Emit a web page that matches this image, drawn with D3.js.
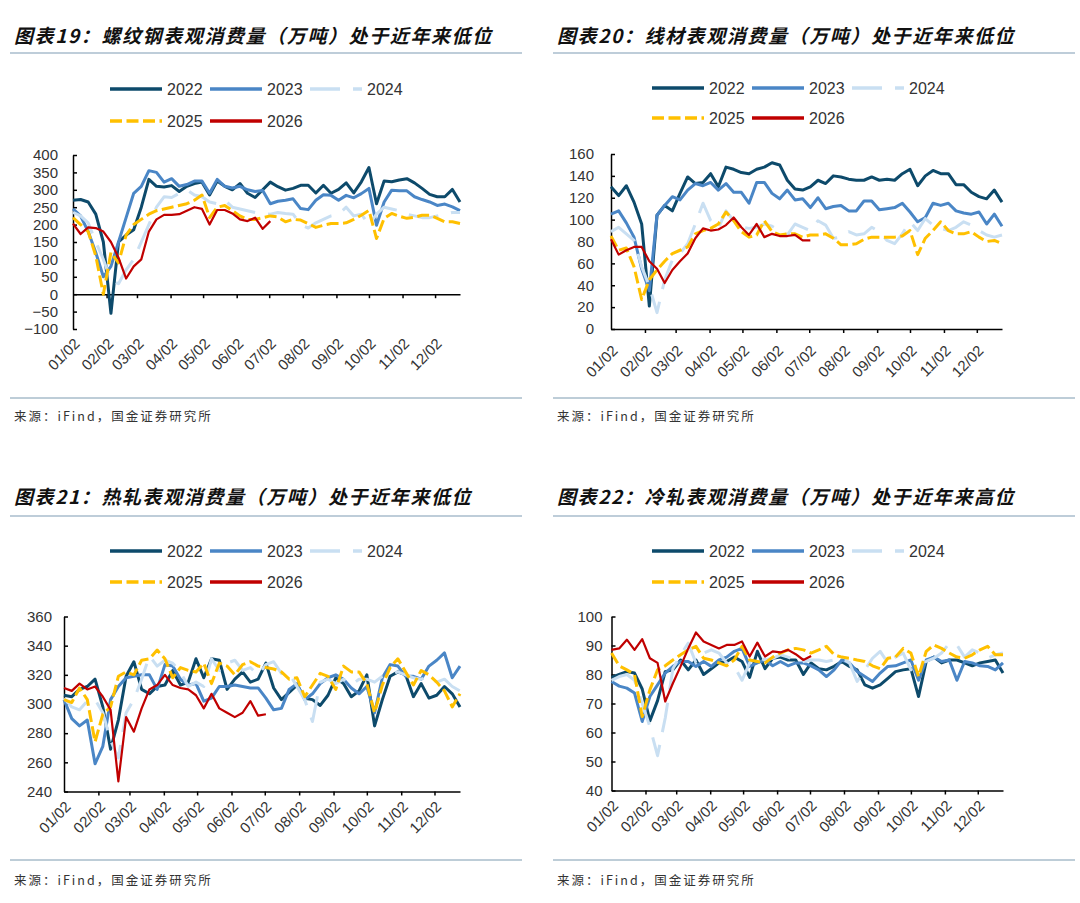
<!DOCTYPE html>
<html>
<head>
<meta charset="utf-8">
<script src="https://cdn.jsdelivr.net/npm/d3@7"></script>
<style>
  body { margin: 0; background: #fff; }
  svg text { font-family: "Liberation Sans", Arial, sans-serif; fill: #333; }
  svg text.title { font-family: "Noto Sans CJK SC", sans-serif; font-weight: bold; font-style: italic; font-size: 19px; letter-spacing: 1.6px; fill: #111; }
  svg text.source { font-family: "Noto Sans CJK SC", sans-serif; font-size: 12.5px; letter-spacing: 2px; fill: #333; }
</style>
</head>
<body>
<svg width="1080" height="903"></svg>
<script>
// weekly points, plotted on a dummy year so the month ticks read mm/dd
var start = new Date(2021, 0, 2);
var weeks = d3.range(52).map(function(i) { return d3.timeDay.offset(start, 7 * i); });
var monthTicks = d3.range(1, 12).map(function(m) { return new Date(2021, m, 2); });
var monthLabels = d3.range(0, 12).map(function(m) { return new Date(2021, m, 2); });
var years = ['2022', '2023', '2024', '2025', '2026'];

// 螺纹钢
var rebar2022 = [270,272,265,230,150,-55,150,170,185,250,330,310,308,312,295,310,318,322,285,325,310,300,318,290,278,300,322,309,299,304,313,313,291,313,290,301,320,291,323,364,260,325,323,328,332,320,304,287,280,280,301,265];
var rebar2023 = [245,225,180,120,50,80,150,220,290,310,355,350,322,332,310,315,325,325,290,330,310,305,310,300,295,298,260,267,270,274,246,243,270,286,284,270,284,277,289,304,198,265,299,297,297,280,272,265,255,259,251,240];
var rebar2024 = [235,225,205,150,100,40,30,70,100,150,200,250,280,278,290,300,285,280,265,260,270,250,245,240,235,232,230,235,232,230,200,190,205,215,225,230,250,225,230,200,230,250,245,240,230,225,220,220,225,230,235,235];
var rebar2025 = [220,200,180,110,0,120,90,170,200,215,230,240,245,250,255,260,270,285,220,250,255,240,225,215,215,220,225,222,208,215,213,203,192,198,203,203,205,215,227,241,160,218,232,224,218,221,227,227,218,208,208,203];
var rebar2026 = [203,173,192,190,180,150,105,45,80,100,180,215,228,228,230,240,250,245,200,242,242,232,215,210,220,188,210];

// 线材
var wire2022 = [130,122,131,116,96,21,104,113,108,124,139,133,134,142,130,148,146,143,142,146,148,152,150,136,128,127,130,136,133,140,139,137,136,136,139,136,137,136,142,146,131,140,145,142,142,132,132,125,121,119,127,116];
var wire2023 = [105,108,97,84,55,35,104,113,121,118,127,133,131,134,127,133,125,125,115,134,134,124,119,127,118,119,111,120,110,112,113,108,108,117,117,109,110,111,115,107,98,102,115,113,115,108,106,105,107,96,105,94];
var wire2024 = [89,93,87,81,57,39,15,45,63,69,78,96,115,99,92,108,99,93,92,93,96,94,90,86,96,93,90,99,95,83,84,89,86,87,93,89,81,78,87,98,90,101,95,92,90,93,98,95,90,86,84,86];
var wire2025 = [85,72,74,57,27,45,54,62,69,72,75,87,90,92,96,107,99,89,84,86,99,89,86,87,87,84,86,86,87,83,77,77,78,82,84,84,84,84,85,90,68,83,90,98,90,87,87,89,84,80,81,78];
var wire2026 = [82,68,72,75,75,62,55,42,54,62,69,83,92,90,91,95,102,93,86,96,84,87,85,85,86,81,81];

// 热轧
var hot2022 = [306,305,310,312,317,298,269,289,319,329,310,307,312,313,323,313,315,331,318,331,330,310,317,322,315,317,328,311,303,308,313,304,303,299,306,318,314,305,309,320,285,303,319,322,320,305,314,304,306,312,307,298];
var hot2023 = [303,290,285,289,259,271,303,312,318,319,320,320,310,327,326,317,313,314,302,304,312,312,313,312,311,311,304,296,297,310,314,303,307,314,318,320,317,311,307,312,294,318,327,326,319,319,317,326,330,335,318,326];
var hot2024 = [304,298,296,302,303,294,275,263,294,303,317,333,326,330,328,322,312,315,312,331,323,328,330,323,325,320,327,329,321,321,312,303,288,315,317,314,317,313,317,317,315,319,320,322,320,318,317,319,315,317,312,309];
var hot2025 = [303,301,311,303,274,293,298,319,322,320,330,331,337,331,318,325,323,322,328,314,328,326,320,327,329,326,325,324,322,317,318,305,313,321,319,310,326,322,322,314,294,313,325,331,322,313,323,320,315,309,298,307];
var hot2026 = [311,309,314,310,312,305,296,247,291,281,297,310,313,320,313,311,310,306,297,307,297,294,291,294,302,292,293];

// 冷轧
var cold2022 = [79,80,81,80.5,75,64,71,81,81.6,85,81.6,85,80,82,84,84.5,86,84.5,79,88,82,85.6,86,85,85,80,84,82,81.6,82.8,84.5,82.8,81.6,76.4,75.3,76.4,78.7,81,81.6,82,72.4,84.5,86,84,85,85,84,83,84,84.5,85,80.5];
var cold2023 = [77.6,76,75.3,73.6,63.8,72.4,76.4,80.5,82.8,84.5,84.5,82.8,84.5,82.8,85,86,88,89,82.8,84,85,83,84.5,83,84,84,83,81.6,79.3,81.6,85,84,81,79.3,77.6,80.5,82.8,83,84,85,78,85,86,84.5,85,78,84.5,84,83,82.8,81.6,84];
var cold2024 = [78,79.3,80,78,70,62,52,65,82,86.8,90.8,84,87.4,88.5,87.4,84,82.8,78,84,86,85,85.6,86.8,86,85,84.5,85,85,84.5,85,85.6,84,77.6,81.6,85.6,88,84,86,87.4,81.6,84,84.5,85.6,87.4,90.8,90.2,86,88.5,87.4,85.6,86.8,87.4];
var cold2025 = [87.4,83,81.6,80,65.5,74.7,81.6,83,85,86.8,88.5,89.7,85.6,85,84,83,85,89.7,85,84.5,84,86,87.4,88.5,89,88.5,87.4,88.5,89.7,86.8,86,85.6,85,84.5,83,82,85.6,86,89,87.4,79.3,88,90.2,89,87.4,86,85.6,86.8,88.5,89.7,86.8,86.8];
var cold2026 = [88.5,89,92,88.5,92.2,85.6,84,70.7,77,82.8,89,94.5,91.4,90.2,89,90.2,90.2,91.4,86.2,91,86.2,88,87.6,88.5,87,85,86.4];

var style = {
  '2022': {color: '#0D4A6B', width: 3,   dash: null},
  '2023': {color: '#4A86C6', width: 3,   dash: null},
  '2024': {color: '#C9DFF2', width: 3,   dash: '30,13'},
  '2025': {color: '#FFC000', width: 3,   dash: '12,4.5'},
  '2026': {color: '#C00000', width: 2.2, dash: null}
};

var panels = [
  {title: '图表19：螺纹钢表观消费量（万吨）处于近年来低位', tx: 14, ty: 43, rule: [10, 522],
   series: [rebar2022, rebar2023, rebar2024, rebar2025, rebar2026],
   left: 73, right: 460, top: 155, bottom: 329, yDomain: [-100, 400], yStep: 50, xAt: 0,
   pad: 15, labelY: 341, legX: 110, legY: [89, 121], ruleY: 53, srcRule: 398, srcY: 421},
  {title: '图表20：线材表观消费量（万吨）处于近年来低位', tx: 557, ty: 43, rule: [553, 1075],
   series: [wire2022, wire2023, wire2024, wire2025, wire2026],
   left: 611, right: 1002, top: 154, bottom: 329, yDomain: [0, 160], yStep: 20, xAt: null,
   pad: 17, labelY: 348, legX: 652, legY: [88, 118], ruleY: 53, srcRule: 398, srcY: 421},
  {title: '图表21：热轧表观消费量（万吨）处于近年来低位', tx: 14, ty: 504, rule: [10, 522],
   series: [hot2022, hot2023, hot2024, hot2025, hot2026],
   left: 64, right: 460, top: 616.5, bottom: 791.5, yDomain: [240, 360], yStep: 20, xAt: null,
   pad: 12, labelY: 804, legX: 110, legY: [551, 582], ruleY: 516, srcRule: 860, srcY: 885},
  {title: '图表22：冷轧表观消费量（万吨）处于近年来高位', tx: 557, ty: 504, rule: [553, 1075],
   series: [cold2022, cold2023, cold2024, cold2025, cold2026],
   left: 611.5, right: 1003, top: 616.5, bottom: 790.5, yDomain: [40, 100], yStep: 10, xAt: null,
   pad: 9, labelY: 803, legX: 652, legY: [551, 582], ruleY: 516, srcRule: 860, srcY: 885}
];

var svg = d3.select('svg');

var graph = function(p) {
  var g = svg.append('g');

  g.append('text').attr('class', 'title')
    .attr('x', p.tx).attr('y', p.ty).text(p.title);
  g.append('line')
    .attr('x1', p.rule[0]).attr('x2', p.rule[1]).attr('y1', p.ruleY).attr('y2', p.ruleY)
    .attr('stroke', '#A9BDCD').attr('stroke-width', 1.5);
  g.append('line')
    .attr('x1', p.rule[0]).attr('x2', p.rule[1]).attr('y1', p.srcRule).attr('y2', p.srcRule)
    .attr('stroke', '#7D9BB0').attr('stroke-width', 1);
  g.append('text').attr('class', 'source')
    .attr('x', p.tx).attr('y', p.srcY).text('来源：iFind，国金证券研究所');

  var x = d3.scaleTime().domain([weeks[0], weeks[weeks.length - 1]]).range([p.left, p.right]);
  var y = d3.scaleLinear().domain(p.yDomain).range([p.bottom, p.top]);

  // y axis, ticks pointing inwards
  var yAxis = g.append('g')
    .attr('transform', 'translate(' + p.left + ',0)')
    .call(d3.axisLeft(y).tickValues(d3.range(p.yDomain[0], p.yDomain[1] + 1, p.yStep))
      .tickSize(-4).tickSizeOuter(0).tickPadding(p.pad));
  yAxis.selectAll('text').attr('font-size', 15).attr('font-family', '"Liberation Sans", Arial, sans-serif').attr('fill', '#333');
  yAxis.selectAll('line, path').attr('stroke', '#000').attr('stroke-width', 1.5);

  // x axis line sits at zero where the range crosses it
  var xy = p.xAt === null ? p.bottom : y(p.xAt);
  var xAxis = g.append('g')
    .attr('transform', 'translate(0,' + xy + ')')
    .call(d3.axisBottom(x).tickValues(monthTicks).tickFormat('').tickSize(4).tickSizeOuter(0));
  xAxis.selectAll('line, path').attr('stroke', '#000').attr('stroke-width', 1.5);

  g.append('g').selectAll('text')
    .data(monthLabels)
    .enter().append('text')
      .attr('transform', function(d) { return 'translate(' + (x(d) + 4) + ',' + p.labelY + ') rotate(-45)'; })
      .attr('text-anchor', 'end')
      .attr('dy', '0.35em')
      .attr('font-size', 15)
      .text(d3.timeFormat('%m/%d'));

  var line = d3.line()
    .x(function(d, i) { return x(weeks[i]); })
    .y(function(d) { return y(d); });

  years.forEach(function(yr, k) {
    var s = style[yr];
    g.append('path')
      .datum(p.series[k])
      .attr('fill', 'none')
      .attr('stroke', s.color)
      .attr('stroke-width', s.width)
      .attr('stroke-dasharray', s.dash)
      .attr('stroke-linejoin', 'round')
      .attr('d', line);
  });

  // legend: three on the first row, two on the second
  years.forEach(function(yr, k) {
    var s = style[yr];
    var lx = p.legX + (k % 3) * 100, ly = p.legY[Math.floor(k / 3)];
    g.append('line')
      .attr('x1', lx).attr('x2', lx + 52).attr('y1', ly).attr('y2', ly)
      .attr('stroke', s.color).attr('stroke-width', 3.5)
      .attr('stroke-dasharray', s.dash);
    g.append('text')
      .attr('x', lx + 57).attr('y', ly).attr('dy', '0.35em')
      .attr('font-size', 16)
      .text(yr);
  });
};

panels.forEach(graph);
</script>
</body>
</html>
